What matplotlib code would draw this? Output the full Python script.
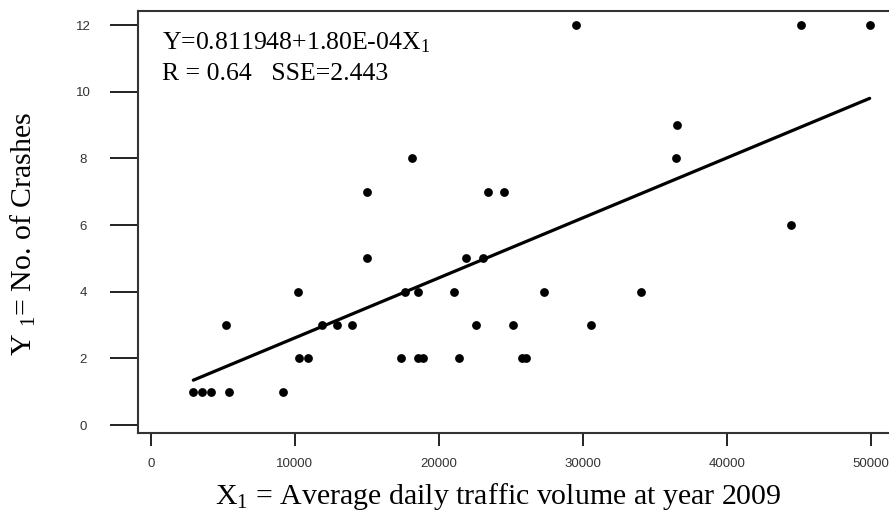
import matplotlib
matplotlib.use("Agg")
import matplotlib.pyplot as plt
import numpy as np

# Average daily traffic volume (2009) and observed crash counts
adt = [2960, 3590, 4190, 5230, 5440, 9210, 10210, 10300, 10950, 11920,
       12920, 14000, 15040, 15040, 17390, 17670, 18130, 18530, 18570, 18880,
       21030, 21380, 21920, 22570, 23100, 23400, 24510, 25180, 25800, 26090,
       27330, 29510, 30600, 34060, 36460, 36550, 44470, 45160, 49930]
crashes = [1, 1, 1, 3, 1, 1, 4, 2, 2, 3,
           3, 3, 7, 5, 2, 4, 8, 2, 4, 2,
           4, 2, 5, 3, 5, 7, 7, 3, 2, 2,
           4, 12, 3, 4, 8, 9, 6, 12, 12]

# Fitted linear model Y = b0 + b1 * X1
b0 = 0.811948
b1 = 1.80e-04

x_ticks = [0, 10000, 20000, 30000, 40000, 50000]
y_ticks = [0, 2, 4, 6, 8, 10, 12]

plt.rcParams["mathtext.fontset"] = "custom"
plt.rcParams["mathtext.rm"] = "Liberation Serif"

W, H = 889, 517
fig = plt.figure(figsize=(W / 100, H / 100), dpi=100)
ax = fig.add_axes([138 / W, (H - 432.7) / H, (895 - 138) / W, (432.7 - 11) / H])

ax.scatter(adt, crashes, s=40, color="black", zorder=3, linewidths=0)

xl = np.array([min(adt), max(adt)])
ax.plot(xl, b0 + b1 * xl, color="black", lw=2.3, solid_capstyle="round")

ax.set_xlim(-882, 51688)
ax.set_ylim(-0.231, 12.42)
ax.set_xticks(x_ticks)
ax.set_yticks(y_ticks)
ax.set_xticklabels([str(v) for v in x_ticks], fontsize=9.5,
                   family="Liberation Sans", color="#333333")
ax.set_yticklabels([str(v) for v in y_ticks], fontsize=9.5,
                   family="Liberation Sans", color="#333333")
plt.setp(ax.get_yticklabels(), ha="center")
ax.tick_params(axis="y", length=20, width=1.4, pad=19.5, color="#222222")
ax.tick_params(axis="x", length=9, width=1.4, pad=9, color="#222222")

for side in ("left", "bottom", "top"):
    ax.spines[side].set_linewidth(1.5)
    ax.spines[side].set_color("#333333")
ax.spines["right"].set_visible(False)

serif = "Liberation Serif"
fig.text(162 / W, 1 - 49 / H, r"Y=0.811948+1.80E-04X$\mathregular{_1}$",
         family=serif, fontsize=18.5, va="baseline", ha="left")
fig.text(162 / W, 1 - 80 / H, "R = 0.64   SSE=2.443",
         family=serif, fontsize=18.5, va="baseline", ha="left")

fig.text(498 / W, 1 - 497 / H,
         r"X$\mathregular{_1}$ = Average daily traffic volume at year 2009",
         family=serif, fontsize=21.5, ha="center", va="center")
fig.text(23 / W, 1 - 233.5 / H, r"Y $\mathregular{_1}$= No. of Crashes",
         family=serif, fontsize=21.5, ha="center", va="center", rotation=90)

fig.savefig("out.png", dpi=100)
